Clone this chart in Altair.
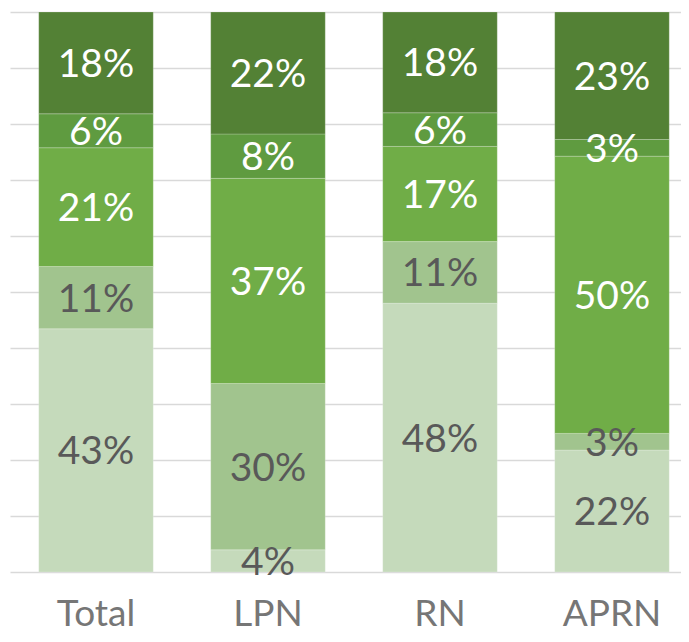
import altair as alt
import pandas as pd

categories = ["Total", "LPN", "RN", "APRN"]
series = ["s1", "s2", "s3", "s4", "s5"]  # bottom to top
values = {
    "s1": [43, 4, 48, 22],
    "s2": [11, 30, 11, 3],
    "s3": [21, 37, 17, 50],
    "s4": [6, 8, 6, 3],
    "s5": [18, 22, 18, 23],
}
colors = ["#c5dabb", "#a1c48e", "#70ad47", "#5f9b40", "#538135"]
label_colors = ["#595959", "#595959", "#ffffff", "#ffffff", "#ffffff"]

rows = []
for si, s in enumerate(series):
    for ci, c in enumerate(categories):
        rows.append({"cat": c, "series": s, "order": si, "value": values[s][ci],
                     "label": f"{values[s][ci]}%"})
df = pd.DataFrame(rows)

FONT = "Lato"

base = alt.Chart(df).transform_stack(
    stack="value", groupby=["cat"], sort=[alt.SortField("order", "ascending")],
    as_=["y0", "y1"], offset="normalize"
).transform_calculate(mid="(datum.y0 + datum.y1) / 2")

xenc = alt.X("cat:N", sort=categories, title=None,
             scale=alt.Scale(paddingInner=0.334, paddingOuter=0.1176, align=0.71),
             axis=alt.Axis(labelAngle=0, labelFont=FONT, labelFontSize=37, labelColor="#767676",
                           labelPadding=24, ticks=False, domain=False, grid=False))

bars = base.mark_bar(stroke="#ffffff", strokeWidth=0.6, strokeOpacity=0.35).encode(
    x=xenc,
    y=alt.Y("y0:Q", scale=alt.Scale(domain=[0, 1], nice=False),
            axis=alt.Axis(values=[i / 10 for i in range(11)], labels=False, ticks=False,
                          domain=False, grid=True, gridColor="#d9d9d9", gridWidth=1.5),
            title=None),
    y2="y1:Q",
    color=alt.Color("series:N", scale=alt.Scale(domain=series, range=colors), legend=None),
)

text = base.mark_text(font=FONT, fontSize=39, baseline="middle", dy=2).encode(
    x=alt.X("cat:N", sort=categories),
    y=alt.Y("mid:Q"),
    text="label:N",
    color=alt.Color("series:N", scale=alt.Scale(domain=series, range=label_colors), legend=None),
)

chart = alt.layer(bars, text).resolve_scale(color="independent").properties(
    width=671, height=560,
    padding={"left": 2, "top": 4, "right": 0, "bottom": 62},
    autosize=alt.AutoSizeParams(type="none"),
).configure_view(stroke=None)

chart.save("out.html", embed_options={"renderer": "svg", "actions": False})
